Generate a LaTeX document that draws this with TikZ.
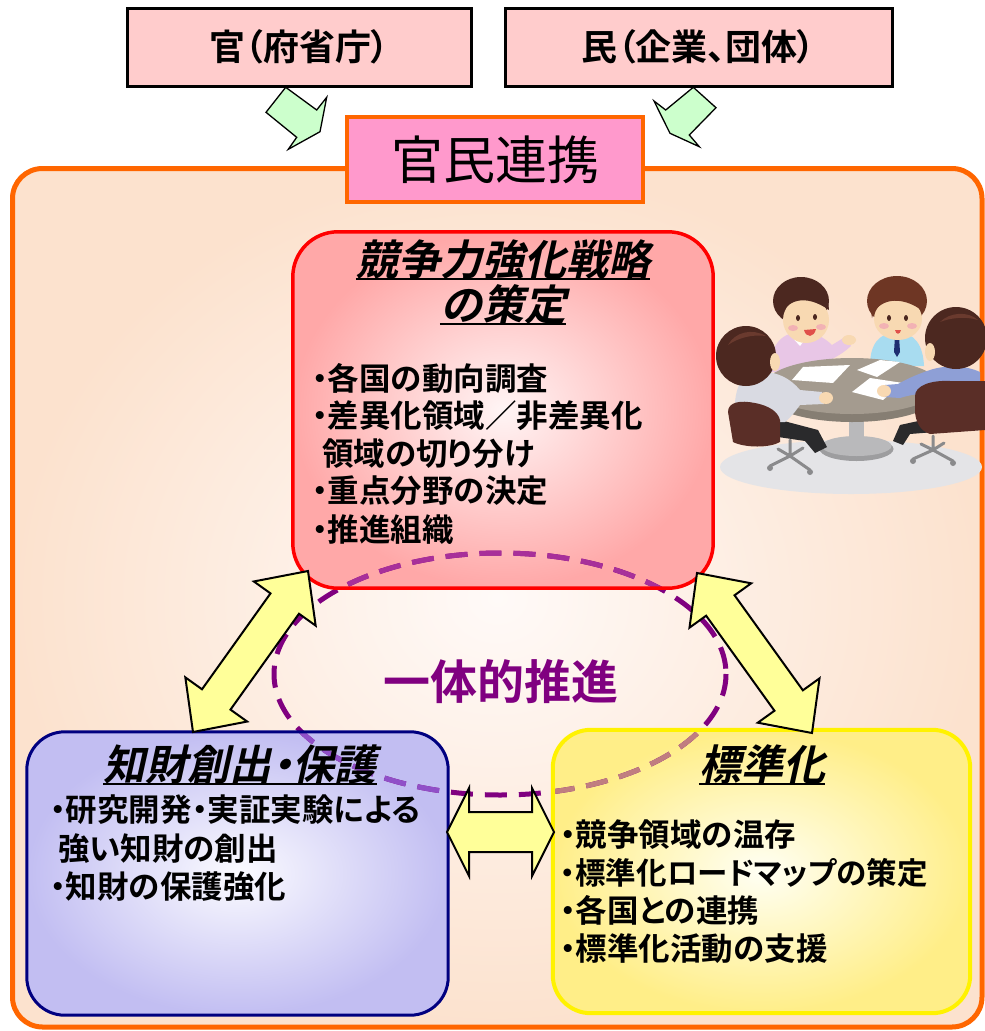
\documentclass[tikz,border=0pt]{standalone}
\usepackage{fontspec}
\setmainfont{Noto Sans CJK JP}[RawFeature=+palt, BoldFont={Noto Sans CJK JP Bold}]
\newfontfamily\headfont{Noto Sans CJK JP}[FakeSlant=0.22, BoldFont={Noto Sans CJK JP Bold}]
\newfontfamily\headfontp{Noto Sans CJK JP}[FakeSlant=0.22, RawFeature=+palt, BoldFont={Noto Sans CJK JP Bold}]
\usetikzlibrary{calc}

\definecolor{frameorange}{HTML}{FF6600}
\definecolor{framein}{HTML}{FFFAF8}
\definecolor{frameout}{HTML}{FCE2CE}
\definecolor{topfill}{HTML}{FFCCCC}
\definecolor{keyfill}{HTML}{FF99CC}
\definecolor{greenfill}{HTML}{CCFFCC}
\definecolor{arrowfill}{HTML}{FFFF99}
\definecolor{redin}{HTML}{FFF5F5}
\definecolor{redout}{HTML}{FFA8A8}
\definecolor{bluein}{HTML}{FBFBFF}
\definecolor{blueout}{HTML}{C2BEF2}
\definecolor{yelin}{HTML}{FFFFF4}
\definecolor{yelout}{HTML}{FFEE88}
\definecolor{navyline}{HTML}{000080}
\definecolor{unitypurple}{HTML}{800080}
\definecolor{unityred}{HTML}{A8309A}
\definecolor{unityblue}{HTML}{9050C8}
\definecolor{unityyellow}{HTML}{C07E80}
% meeting illustration colours
\definecolor{floorgray}{HTML}{E4E4E7}
\definecolor{pedgray}{HTML}{B9B9BB}
\definecolor{chairgray}{HTML}{8A8A8C}
\definecolor{tabletop}{HTML}{A49B8F}
\definecolor{tablerim}{HTML}{867E73}
\definecolor{skin}{HTML}{F8D9B2}
\definecolor{cheek}{HTML}{F2B2B4}
\definecolor{hairdark}{HTML}{4C2820}
\definecolor{hairmid}{HTML}{6E3624}
\definecolor{hairlight}{HTML}{6A3A2E}
\definecolor{pinkshirt}{HTML}{E8C6E6}
\definecolor{lightblue}{HTML}{A8DCF0}
\definecolor{navytie}{HTML}{1E2E70}
\definecolor{grayshirt}{HTML}{D9DAE2}
\definecolor{blueshirt}{HTML}{8E9FD6}
\definecolor{chairbrown}{HTML}{5A2E27}
\definecolor{pants}{HTML}{2A2A2C}
\definecolor{mouthred}{HTML}{E0504A}

% double-headed block arrow between two tips:
% #1,#2 tips, #3 head length, #4 head half width, #5 shaft half width
\newcommand\blockdouble[5]{%
  \coordinate (h1) at ($(#1)!#3!(#2)$);
  \coordinate (h2) at ($(#2)!#3!(#1)$);
  \draw[linkarrow] (#1)
    -- ($(h1)!#4!90:(#2)$) -- ($(h1)!#5!90:(#2)$)
    -- ($(h2)!#5!-90:(#1)$) -- ($(h2)!#4!-90:(#1)$)
    -- (#2)
    -- ($(h2)!#4!90:(#1)$) -- ($(h2)!#5!90:(#1)$)
    -- ($(h1)!#5!-90:(#2)$) -- ($(h1)!#4!-90:(#2)$)
    -- cycle;}

\tikzset{
  topbox/.style={draw=black, line width=3pt, fill=topfill, minimum height=78pt,
    inner sep=0pt, font=\bfseries\fontsize{36}{36}\selectfont},
  panel/.style={inner sep=0pt},
  title/.style={anchor=base, inner sep=0pt, font=\headfont\bfseries\fontsize{42}{42}\selectfont},
  item/.style={anchor=base west, inner sep=0pt, font=\bfseries\fontsize{31.5}{31.5}\selectfont},
  ul/.style={line width=2pt},
  greenarrow/.style={draw=black, line width=1.3pt, fill=greenfill, line join=miter},
  linkarrow/.style={draw=black, line width=2pt, fill=arrowfill, line join=miter},
  unity/.style={line width=5pt, dash pattern=on 22pt off 12pt},
}

\begin{document}
\begin{tikzpicture}[x=1pt, y=-1pt]
\useasboundingbox (0,0) rectangle (985,1031);
\fill[white] (0,0) rectangle (985,1031);

% large frame
\node[draw=frameorange, line width=5pt, rounded corners=30pt, inner color=framein,
  outer color=frameout, minimum width=969.5pt, minimum height=858.5pt, inner sep=0pt]
  (frame) at (497.25,597.75) {};

% three panels (fill only, borders later)
\node[panel, rounded corners=45pt, inner color=redin, outer color=redout,
  minimum width=420pt, minimum height=356pt] (strat) at (503,410) {};
\node[panel, rounded corners=38pt, inner color=bluein, outer color=blueout,
  minimum width=421pt, minimum height=283pt] (ip) at (237.5,873.5) {};
\node[panel, rounded corners=38pt, inner color=yelin, outer color=yelout,
  minimum width=417pt, minimum height=283pt] (std) at (761.5,871.5) {};

% dashed ring, tinted where it passes over a panel
\coordinate (uc) at (500,674);
\draw[unity, draw=unitypurple] (uc) ellipse [x radius=226, y radius=121];
\begin{scope}
  \clip[rounded corners=45pt] (strat.north west) rectangle (strat.south east);
  \draw[unity, draw=unityred] (uc) ellipse [x radius=226, y radius=121];
\end{scope}
\begin{scope}
  \clip[rounded corners=38pt] (ip.north west) rectangle (ip.south east);
  \draw[unity, draw=unityblue] (uc) ellipse [x radius=226, y radius=121];
\end{scope}
\begin{scope}
  \clip[rounded corners=38pt] (std.north west) rectangle (std.south east);
  \draw[unity, draw=unityyellow] (uc) ellipse [x radius=226, y radius=121];
\end{scope}

% panel borders
\draw[red, line width=3.5pt, rounded corners=45pt] (strat.north west) rectangle (strat.south east);
\draw[navyline, line width=3pt, rounded corners=38pt] (ip.north west) rectangle (ip.south east);
\draw[yellow, line width=4pt, rounded corners=38pt] (std.north west) rectangle (std.south east);

% block arrows between the panels
\coordinate (la1) at (308,571);  \coordinate (la2) at (193,732);
\coordinate (ra1) at (697,573);  \coordinate (ra2) at (812,733);
\coordinate (ha1) at (447,832);  \coordinate (ha2) at (554,832);
\blockdouble{la1}{la2}{40pt}{38pt}{17.5pt}
\blockdouble{ra1}{ra2}{40pt}{38pt}{17.5pt}
\blockdouble{ha1}{ha2}{22pt}{44pt}{20pt}

% top boxes
\node[topbox, minimum width=344pt] (gov) at (299,47) {官（府省庁）};
\node[topbox, minimum width=387pt] (biz) at (698.5,47) {民（企業、団体）};

% green arrows into the partnership box
\coordinate (g1a) at (266,112.3);   \coordinate (g1b) at (285.7,87.3);
\coordinate (g1c) at (316.7,110);   \coordinate (g1d) at (326.7,97.3);
\coordinate (g1e) at (320,131.7);   \coordinate (g1f) at (288.3,149.3);
\coordinate (g1g) at (296.7,137.3);
\draw[greenarrow] (g1a) -- (g1b) -- (g1c) -- (g1d) -- (g1e) -- (g1f) -- (g1g) -- cycle;
\coordinate (g2a) at (693.3,87.3);  \coordinate (g2b) at (716,107.7);
\coordinate (g2c) at (689.3,135);   \coordinate (g2d) at (699.3,146.7);
\coordinate (g2e) at (670,133.3);   \coordinate (g2f) at (654,101);
\coordinate (g2g) at (665.7,110);
\draw[greenarrow] (g2a) -- (g2b) -- (g2c) -- (g2d) -- (g2e) -- (g2f) -- (g2g) -- cycle;

\node[draw=frameorange, line width=4pt, fill=keyfill, minimum width=296pt,
  minimum height=85pt, inner sep=0pt, font=\fontsize{52}{52}\selectfont]
  (link) at (495,159.5) {官民連携};

% strategy panel text
\node[title] (st1) at (503,275) {競争力強化戦略};
\node[title] (st2) at (503,320) {の策定};
\draw[ul] ([yshift=-4pt]st1.base west) -- ([yshift=-4pt]st1.base east);
\draw[ul] ([yshift=-4pt]st2.base west) -- ([yshift=-4pt]st2.base east);
\node[item] (s1) at (312,390) {・各国の動向調査};
\node[item] (s2) at (312,427) {・差異化領域／非差異化};
\node[item] (s3) at (322,465) {領域の切り分け};
\node[item] (s4) at (312,502) {・重点分野の決定};
\node[item] (s5) at (312,541) {・推進組織};

% IP panel text
\node[title, font=\headfontp\bfseries\fontsize{42}{42}\selectfont] (ipt) at (240,780) {知財創出・保護};
\draw[ul] ([yshift=-4pt]ipt.base west) -- ([yshift=-4pt]ipt.base east);
\node[item] (i1) at (50,821) {・研究開発・実証実験による};
\node[item] (i2) at (58,860) {強い知財の創出};
\node[item] (i3) at (50,898) {・知財の保護強化};

% standardisation panel text
\node[title] (sdt) at (762,780) {標準化};
\draw[ul] ([yshift=-4pt]sdt.base west) -- ([yshift=-4pt]sdt.base east);
\node[item] (d1) at (560,846) {・競争領域の温存};
\node[item, font=\bfseries\fontsize{30.5}{30.5}\selectfont] (d2) at (560,884) {・標準化ロードマップの策定};
\node[item] (d3) at (560,922) {・各国との連携};
\node[item] (d4) at (560,960) {・標準化活動の支援};

% centre label
\node[anchor=base, inner sep=0pt, text=unitypurple, font=\bfseries\fontsize{47}{47}\selectfont]
  (unitytext) at (501,699) {一体的推進};

% meeting illustration
\begin{scope}
  \clip (715,265) rectangle (985,500);
  \fill[floorgray] (851,467) ellipse [x radius=131, y radius=27];
  % chair bases
  \draw[chairgray, line width=3pt, line cap=round] (790,440) -- (790,456)
    (790,456) -- (770,466) (790,456) -- (810,470) (790,456) -- (803,448) (790,456) -- (778,449);
  \fill[chairgray] (770,468) circle [radius=3] (810,472) circle [radius=3];
  \draw[chairgray, line width=3pt, line cap=round] (933,436) -- (933,450)
    (933,450) -- (913,459) (933,450) -- (953,461) (933,450) -- (944,443) (933,450) -- (921,444);
  \fill[chairgray] (913,461) circle [radius=3] (953,463) circle [radius=3];
  % table pedestal
  \fill[pedgray] (849,405) rectangle (864,445);
  \fill[pedgray!85!black] (856.5,449) ellipse [x radius=37, y radius=12];
  \fill[pedgray] (856.5,446) ellipse [x radius=35, y radius=10];

  % person in pink shirt
  \fill[pinkshirt] (770,372) .. controls (770,346) and (780,334) .. (798,332)
    .. controls (815,332) and (825,338) .. (832,345) -- (845,337) -- (851,346)
    .. controls (840,356) and (830,360) .. (825,362) -- (825,372) -- cycle;
  \fill[white] (789,334) -- (800,346) -- (809,334) -- cycle;
  \fill[skin] (849,340) ellipse [x radius=7, y radius=5];
  \fill[hairdark] (801,301) ellipse [x radius=28, y radius=24];
  \fill[skin] (806,320) ellipse [x radius=23, y radius=23];
  \fill[hairdark] (781,318) .. controls (785,300) and (805,293) .. (829,310)
    .. controls (828,292) and (815,281) .. (800,281) .. controls (785,282) and (776,296) .. (781,318) -- cycle;
  \fill[hairdark] (798,318) ellipse [x radius=2, y radius=3] (815,317) ellipse [x radius=2, y radius=3];
  \fill[cheek] (793,328) ellipse [x radius=5, y radius=3] (821,327) ellipse [x radius=5, y radius=3];
  \fill[mouthred] (804,330) .. controls (806,338) and (814,338) .. (816,329) -- cycle;

  % person in blue shirt
  \fill[lightblue] (870,366) .. controls (870,345) and (878,333) .. (897,332)
    .. controls (915,333) and (923,345) .. (924,366) -- cycle;
  \fill[navytie] (895,336) -- (899,336) -- (900,352) -- (897,357) -- (894,352) -- cycle;
  \fill[hairmid] (897,301) ellipse [x radius=30, y radius=25];
  \fill[skin] (898,319) ellipse [x radius=24, y radius=21];
  \fill[hairmid] (872,318) .. controls (876,300) and (900,293) .. (924,312)
    .. controls (927,290) and (912,277) .. (897,277) .. controls (880,278) and (868,295) .. (872,318) -- cycle;
  \fill[hairdark] (889,318) ellipse [x radius=2, y radius=3] (906,318) ellipse [x radius=2, y radius=3];
  \fill[cheek] (884,326) ellipse [x radius=5, y radius=3] (912,326) ellipse [x radius=5, y radius=3];
  \fill[mouthred] (895,330) .. controls (896,335) and (900,335) .. (901,330) -- cycle;

  % table top and papers
  \fill[tablerim] (852,392) ellipse [x radius=89, y radius=30];
  \fill[tabletop] (852,386) ellipse [x radius=88, y radius=28];
  \fill[white] (803,367) -- (850,365) -- (833,383) -- (792,380) -- cycle;
  \fill[white] (857,370) -- (880,360) -- (900,362) -- (877,377) -- cycle;
  \fill[white] (852,392) -- (870,378) -- (903,383) -- (883,400) -- cycle;

  % person seen from behind, left
  \fill[pants] (780,420) -- (818,430) -- (827,447) -- (815,453) -- (805,441) -- (778,437) -- cycle;
  \fill[grayshirt] (735,422) .. controls (733,395) and (738,375) .. (755,372)
    .. controls (775,370) and (790,378) .. (800,390) -- (822,392) -- (824,404) -- (800,405)
    .. controls (795,412) and (790,418) .. (785,422) -- cycle;
  \fill[skin] (826,398) ellipse [x radius=7, y radius=6];
  \fill[hairdark] (746,356) circle [radius=30];
  \fill[hairlight] (728,345) .. controls (735,332) and (752,328) .. (766,336)
    .. controls (752,334) and (738,338) .. (728,345) -- cycle;
  \fill[skin] (775,362) ellipse [x radius=5, y radius=9];
  \fill[chairbrown] (728,412) .. controls (728,402) and (740,400) .. (755,403)
    .. controls (770,406) and (778,412) .. (780,420) -- (780,442)
    .. controls (770,448) and (745,448) .. (733,442) -- cycle;

  % person seen from behind, right
  \fill[pants] (932,418) -- (900,425) -- (893,441) -- (903,445) -- (910,434) -- (935,432) -- cycle;
  \fill[blueshirt] (980,414) -- (980,372) .. controls (965,365) and (945,365) .. (930,370)
    .. controls (915,375) and (905,380) .. (898,384) -- (885,385) -- (884,397) -- (900,398)
    .. controls (910,395) and (920,393) .. (925,395) -- (925,414) -- cycle;
  \fill[skin] (884,391) ellipse [x radius=7, y radius=6];
  \fill[hairdark] (956,338) circle [radius=31];
  \fill[hairlight] (940,322) .. controls (950,312) and (968,311) .. (978,320)
    .. controls (965,316) and (950,318) .. (940,322) -- cycle;
  \fill[skin] (930,352) ellipse [x radius=5, y radius=9];
  \fill[chairbrown] (915,396) .. controls (915,386) and (930,380) .. (950,381)
    -- (985,381) -- (985,430) -- (930,434) .. controls (920,431) and (915,421) .. (915,410) -- cycle;
\end{scope}
\end{tikzpicture}
\end{document}
